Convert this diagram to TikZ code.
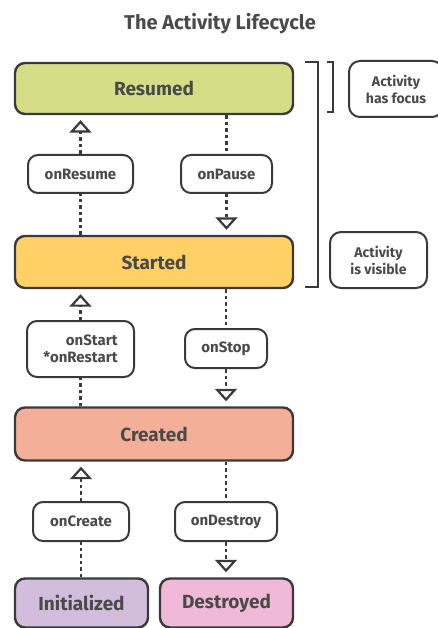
\documentclass[tikz,border=0pt]{standalone}
\usepackage{fontspec}
\setmainfont{Fira Sans}
\usetikzlibrary{arrows.meta}
\definecolor{edgegray}{HTML}{3A3A3A}
\definecolor{textgray}{HTML}{4A4A4A}
\definecolor{resumedfill}{HTML}{D5DE86}
\definecolor{startedfill}{HTML}{FED066}
\definecolor{createdfill}{HTML}{F3AF98}
\definecolor{initfill}{HTML}{D3BDDC}
\definecolor{destroyfill}{HTML}{F0B9D7}
\tikzset{
  state/.style={
    draw=edgegray, line width=2.4pt, rounded corners=10pt,
    text=textgray, font=\fontsize{19}{21}\selectfont\bfseries,
    inner sep=0pt
  },
  callback/.style={
    draw=edgegray, line width=2pt, rounded corners=10pt, fill=white,
    text=textgray, font=\fontsize{15}{17}\selectfont\bfseries,
    inner sep=0pt, align=center
  },
  note/.style={
    draw=edgegray, line width=2pt, rounded corners=11pt,
    text=textgray, font=\fontsize{14}{17}\selectfont\bfseries,
    inner sep=0pt, align=center
  },
  flow/.style={
    draw=edgegray, line width=2.2pt, dash pattern=on 3.5pt off 3pt,
    -{Triangle[open, width=22pt, length=12.5pt, line width=2.2pt, fill=white]},
    shorten >=5pt
  },
  plain flow/.style={
    draw=edgegray, line width=2.2pt, dash pattern=on 3.5pt off 3pt
  }
}

\begin{document}
\begin{tikzpicture}[x=1pt, y=-1pt]
\useasboundingbox (0,0) rectangle (437,628);

\node[text=textgray, font=\fontsize{20}{22}\selectfont\bfseries] (title) at (220,24) {The Activity Lifecycle};

% states
\node[state, fill=resumedfill, minimum width=278pt, minimum height=51pt] (Resumed) at (154,88.5) {Resumed};
\node[state, fill=startedfill, minimum width=278pt, minimum height=52pt] (Started) at (154,262) {Started};
\node[state, fill=createdfill, minimum width=278pt, minimum height=53pt] (Created) at (154,434) {Created};
\node[state, fill=initfill, minimum width=133pt, minimum height=49pt] (Initialized) at (81.5,603) {Initialized};
\node[state, fill=destroyfill, minimum width=133pt, minimum height=49pt] (Destroyed) at (226.5,603) {Destroyed};

% callbacks
\node[callback, minimum width=105pt, minimum height=38pt] (onResume) at (80.5,174) {onResume};
\node[callback, minimum width=91pt, minimum height=38pt] (onPause) at (226.5,174) {onPause};
\node[callback, minimum width=107pt, minimum height=56pt, align=right] (onStart) at (80.5,349) {onStart\\*onRestart};
\node[callback, minimum width=82pt, minimum height=39pt] (onStop) at (226,348.5) {onStop};
\node[callback, minimum width=96pt, minimum height=39pt] (onCreate) at (81,521.5) {onCreate};
\node[callback, minimum width=102pt, minimum height=39pt] (onDestroy) at (226,521.5) {onDestroy};

% notes
\node[note, minimum width=94pt, minimum height=56pt] (hasFocus) at (396,89) {Activity\\has focus};
\node[note, minimum width=97pt, minimum height=56pt] (isVisible) at (378.5,260) {Activity\\is visible};

% brackets
\draw[edgegray, line width=2.2pt] (305,62) -- (318,62) -- (318,287) -- (305,287);
\draw[edgegray, line width=2.2pt] (327,62) -- (333,62) -- (333,112) -- (327,112);

% transitions up
\draw[plain flow] (Started.north -| onResume) -- (onResume.south);
\draw[flow] (onResume.north) -- (onResume.north |- Resumed.south);
\draw[plain flow] (Created.north -| onStart) -- (onStart.south);
\draw[flow] (onStart.north) -- (onStart.north |- Started.south);
\draw[plain flow] (Initialized.north -| onCreate) -- (onCreate.south);
\draw[flow] (onCreate.north) -- (onCreate.north |- Created.south);

% transitions down
\draw[plain flow] (Resumed.south -| onPause) -- (onPause.north);
\draw[flow] (onPause.south) -- (onPause.south |- Started.north);
\draw[plain flow] (Started.south -| onStop) -- (onStop.north);
\draw[flow] (onStop.south) -- (onStop.south |- Created.north);
\draw[plain flow] (Created.south -| onDestroy) -- (onDestroy.north);
\draw[flow] (onDestroy.south) -- (onDestroy.south |- Destroyed.north);
\end{tikzpicture}
\end{document}
